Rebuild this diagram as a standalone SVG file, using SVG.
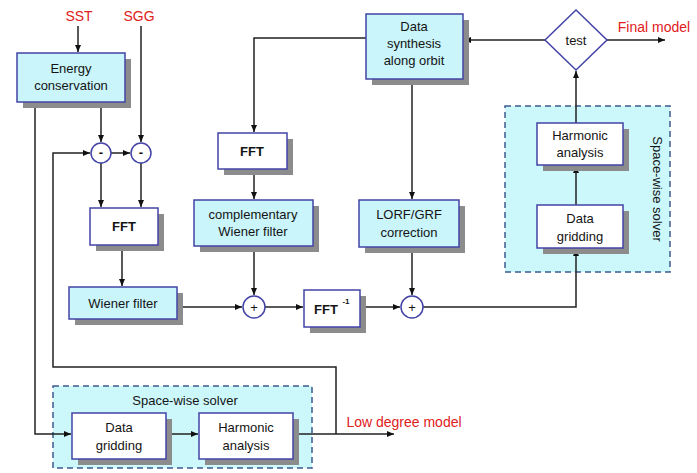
<svg xmlns="http://www.w3.org/2000/svg" width="697" height="473" viewBox="0 0 697 473">
<defs>
<style>
.box{stroke:#4343a6;stroke-width:1.5}
.cyan{fill:#c9f5fb}
.white{fill:#ffffff}
.sh{fill:#8c8c8c}
.t{font-family:"Liberation Sans",Arial,sans-serif;font-size:13px;fill:#141414;text-anchor:middle}
.b{font-weight:bold}
.red{fill:#e0201c;font-size:14px}
.ln{fill:none;stroke:#222;stroke-width:1.5}
.reg{fill:#cdf8fb;stroke:#3d5a8e;stroke-width:1.5;stroke-dasharray:6 4}
.cir{fill:#ffffff;stroke:#4343a6;stroke-width:1.5}
</style>
<marker id="a" markerWidth="8" markerHeight="8" refX="7" refY="4" orient="auto" markerUnits="userSpaceOnUse"><path d="M0,1 L7,4 L0,7z" fill="#111"/></marker>
</defs>
<rect width="697" height="473" fill="#ffffff"/>

<g id="region-right"><rect class="reg" x="505" y="106" width="165" height="166"/><text class="t" transform="translate(653,189) rotate(90)">Space-wise solver</text></g>
<g id="region-bottom"><rect class="reg" x="53" y="386" width="259" height="82"/><text class="t" x="185" y="405">Space-wise solver</text></g>

<g id="connectors">
<path class="ln" d="M78,26 V52" marker-end="url(#a)"/>
<path class="ln" d="M141,26 V142" marker-end="url(#a)"/>
<path class="ln" d="M101,102 V142" marker-end="url(#a)"/>
<path class="ln" d="M111,153 H130" marker-end="url(#a)"/>
<path class="ln" d="M101,163 V207" marker-end="url(#a)"/>
<path class="ln" d="M141,163 V207" marker-end="url(#a)"/>
<path class="ln" d="M122,245 V286" marker-end="url(#a)"/>
<path class="ln" d="M177,307 H242" marker-end="url(#a)"/>
<path class="ln" d="M366,38 H254 V132" marker-end="url(#a)"/>
<path class="ln" d="M254,169 V199" marker-end="url(#a)"/>
<path class="ln" d="M254,246 V295" marker-end="url(#a)"/>
<path class="ln" d="M265,307 H303" marker-end="url(#a)"/>
<path class="ln" d="M360,307 H400" marker-end="url(#a)"/>
<path class="ln" d="M412,79 V199" marker-end="url(#a)"/>
<path class="ln" d="M412,247 V295" marker-end="url(#a)"/>
<path class="ln" d="M423,307 H576 V249" marker-end="url(#a)"/>
<path class="ln" d="M576,205 V166" marker-end="url(#a)"/>
<path class="ln" d="M576,123 V71" marker-end="url(#a)"/>
<path class="ln" d="M545,40 H464" marker-end="url(#a)"/>
<path class="ln" d="M607,40 H665" marker-end="url(#a)"/>
<path class="ln" d="M35,102 V434 H71" marker-end="url(#a)"/>
<path class="ln" d="M166,434 H198" marker-end="url(#a)"/>
<path class="ln" d="M293,434 H394" marker-end="url(#a)"/>
<path class="ln" d="M336,434 V367 H53 V153 H90" marker-end="url(#a)"/>
</g>

<g id="sst"><text class="t red" x="79" y="21">SST</text></g>
<g id="sgg"><text class="t red" x="139" y="21">SGG</text></g>
<g id="final-model"><text class="t red" x="654" y="32">Final model</text></g>
<g id="low-degree-model"><text class="t red" x="404" y="427">Low degree model</text></g>

<g id="energy"><rect class="sh" x="23" y="59" width="108" height="49"/><rect class="box cyan" x="17" y="53" width="108" height="49"/><text class="t" x="71" y="73">Energy</text><text class="t" x="71" y="90">conservation</text></g>
<g id="minus1"><circle class="cir" cx="101" cy="153" r="10"/><text class="t b" x="101" y="157">-</text></g>
<g id="minus2"><circle class="cir" cx="141" cy="153" r="10"/><text class="t b" x="141" y="157">-</text></g>
<g id="fft1"><rect class="sh" x="96" y="214" width="68" height="37"/><rect class="box white" x="90" y="208" width="68" height="37"/><text class="t b" x="124" y="231">FFT</text></g>
<g id="wiener"><rect class="sh" x="75" y="293" width="108" height="32"/><rect class="box cyan" x="69" y="287" width="108" height="32"/><text class="t" x="123" y="308">Wiener filter</text></g>
<g id="fft2"><rect class="sh" x="224" y="139" width="69" height="36"/><rect class="box white" x="218" y="133" width="69" height="36"/><text class="t b" x="252" y="156">FFT</text></g>
<g id="compwiener"><rect class="sh" x="200" y="206" width="119" height="46"/><rect class="box cyan" x="194" y="200" width="119" height="46"/><text class="t" x="253" y="219">complementary</text><text class="t" x="253" y="236">Wiener filter</text></g>
<g id="datasynthesis"><rect class="sh" x="372" y="20" width="97" height="65"/><rect class="box cyan" x="366" y="14" width="97" height="65"/><text class="t" x="414" y="31">Data</text><text class="t" x="414" y="48">synthesis</text><text class="t" x="414" y="65">along orbit</text></g>
<g id="lorf"><rect class="sh" x="365" y="206" width="100" height="47"/><rect class="box cyan" x="359" y="200" width="100" height="47"/><text class="t" x="409" y="219">LORF/GRF</text><text class="t" x="409" y="237">correction</text></g>
<g id="plus1"><circle class="cir" cx="254" cy="307" r="11"/><text class="t" x="254" y="312">+</text></g>
<g id="plus2"><circle class="cir" cx="412" cy="307" r="11"/><text class="t" x="412" y="312">+</text></g>
<g id="fftinv"><rect class="sh" x="310" y="296" width="56" height="37"/><rect class="box white" x="304" y="290" width="56" height="37"/><text class="t b" x="326" y="314">FFT</text><text class="t b" x="346" y="304" style="font-size:8px">-1</text></g>
<g id="test"><polygon points="545,40 576,10 607,40 576,70" fill="#ffffff" stroke="#4343a6" stroke-width="1.5"/><text class="t" x="576" y="45">test</text></g>
<g id="harmonic-right"><rect class="sh" x="543" y="129" width="86" height="42"/><rect class="box white" x="537" y="123" width="86" height="42"/><text class="t" x="580" y="140">Harmonic</text><text class="t" x="580" y="157">analysis</text></g>
<g id="gridding-right"><rect class="sh" x="543" y="211" width="86" height="43"/><rect class="box white" x="537" y="205" width="86" height="43"/><text class="t" x="580" y="223">Data</text><text class="t" x="580" y="241">gridding</text></g>
<g id="gridding-bottom"><rect class="sh" x="78" y="419" width="94" height="46"/><rect class="box white" x="72" y="413" width="94" height="46"/><text class="t" x="119" y="432">Data</text><text class="t" x="119" y="450">gridding</text></g>
<g id="harmonic-bottom"><rect class="sh" x="205" y="419" width="94" height="46"/><rect class="box white" x="199" y="413" width="94" height="46"/><text class="t" x="246" y="432">Harmonic</text><text class="t" x="246" y="450">analysis</text></g>
</svg>
